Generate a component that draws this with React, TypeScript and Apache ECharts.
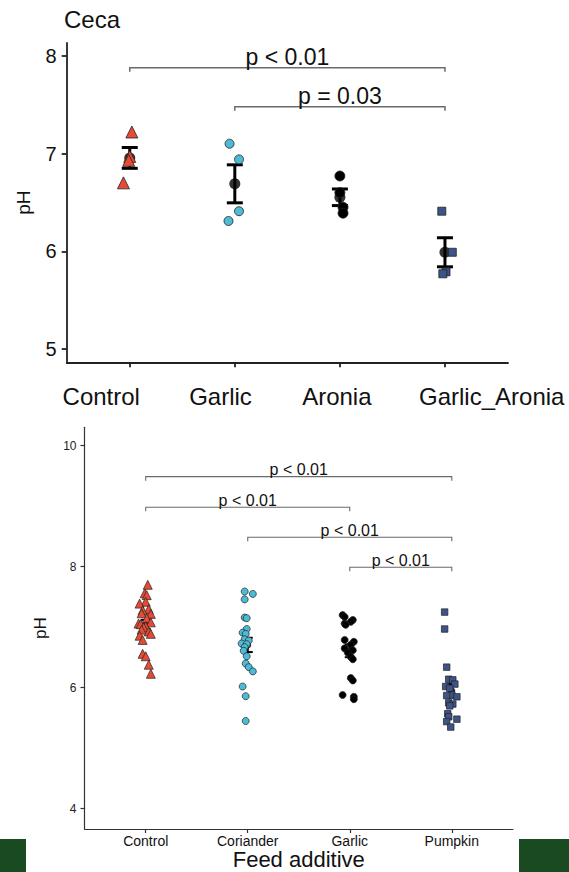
import React, { useEffect, useRef } from "react";
import * as echarts from "echarts";

// ---------- Top panel (Ceca) ----------
const topCategories = ["Control", "Garlic", "Aronia", "Garlic_Aronia"];
const topLabelPositions = [0.729, 1.864, 2.971, 4.445];
const topYTicks = [5, 6, 7, 8];
const topControl = [7.22, 6.97, 6.93, 6.7];
const topControlJitter = [0.02, 0.0, -0.01, -0.06];
const topGarlic = [7.1, 6.94, 6.41, 6.31];
const topGarlicJitter = [-0.05, 0.04, 0.04, -0.06];
const topAronia = [6.77, 6.6, 6.45, 6.39];
const topAroniaJitter = [0.0, 0.0, 0.03, 0.03];
const topGarlicAronia = [6.41, 5.99, 5.79, 5.77];
const topGarlicAroniaJitter = [-0.03, 0.07, 0.01, -0.02];
const topBrackets = [
  { from: 1, to: 4, y: 7.877, label: "p < 0.01" },
  { from: 2, to: 4, y: 7.479, label: "p = 0.03" },
];

// ---------- Bottom panel ----------
const bottomCategories = ["Control", "Coriander", "Garlic", "Pumpkin"];
const bottomYTicks = [4, 6, 8, 10];
const botControl = [7.7, 7.56, 7.53, 7.42, 7.39, 7.3, 7.28, 7.22, 7.23, 7.15, 7.08, 7.06, 7.05, 7.02, 7.0, 6.96, 6.93, 6.89, 6.86, 6.79, 6.56, 6.52, 6.38, 6.23];
const botControlJitter = [0.02, -0.01, 0.01, 0.0, -0.06, 0.03, -0.03, 0.05, -0.04, 0.01, 0.05, -0.07, -0.05, 0.0, -0.02, -0.04, 0.03, 0.05, -0.06, -0.03, -0.03, 0.0, 0.03, 0.05];
const botCoriander = [7.59, 7.55, 7.46, 7.16, 7.15, 6.97, 6.91, 6.89, 6.8, 6.78, 6.73, 6.72, 6.67, 6.61, 6.52, 6.4, 6.34, 6.27, 6.02, 5.86, 5.45];
const botCorianderJitter = [-0.03, 0.05, -0.03, -0.03, -0.01, -0.01, -0.05, -0.02, -0.03, 0.01, -0.06, -0.01, -0.03, -0.04, -0.01, -0.02, 0.01, 0.05, -0.05, -0.02, -0.02];
const botGarlic = [7.2, 7.17, 7.12, 7.09, 7.06, 7.04, 6.79, 6.76, 6.71, 6.65, 6.62, 6.58, 6.51, 6.47, 6.16, 6.12, 5.88, 5.85, 5.81];
const botGarlicJitter = [-0.07, -0.05, 0.03, 0.01, -0.05, -0.04, -0.05, 0.04, 0.01, -0.05, 0.03, -0.02, 0.01, 0.03, 0.01, 0.03, -0.07, 0.04, 0.04];
const botPumpkin = [7.25, 6.97, 6.34, 6.14, 6.13, 6.06, 6.02, 5.99, 5.88, 5.87, 5.85, 5.75, 5.73, 5.7, 5.57, 5.52, 5.48, 5.44, 5.35];
const botPumpkinJitter = [-0.07, -0.07, -0.05, -0.03, 0.01, 0.03, -0.06, -0.02, 0.0, -0.05, 0.05, -0.03, 0.01, -0.02, -0.04, -0.03, 0.05, -0.05, -0.01];
const bottomBrackets = [
  { from: 1, to: 4, y: 9.488, label: "p < 0.01" },
  { from: 1, to: 3, y: 8.982, label: "p < 0.01" },
  { from: 2, to: 4, y: 8.486, label: "p < 0.01" },
  { from: 3, to: 4, y: 7.99, label: "p < 0.01" },
];

const RED = "#E64B35";
const CYAN = "#4DBBD5";
const BLACK = "#000000";
const BLUE = "#3C5488";
const FONT = "Liberation Sans, Arial, sans-serif";

function stats(vals: number[]) {
  const n = vals.length;
  const mean = vals.reduce((a, b) => a + b, 0) / n;
  const sd = Math.sqrt(vals.reduce((a, b) => a + (b - mean) * (b - mean), 0) / (n - 1));
  const se = sd / Math.sqrt(n);
  return { mean, lo: mean - se, hi: mean + se };
}

function pts(vals: number[], jit: number[], idx: number) {
  return vals.map((v, i) => [idx + jit[i], v]);
}

export default function App() {
  const ref = useRef<HTMLDivElement>(null);
  useEffect(() => {
    if (!ref.current) return;
    const chart = echarts.init(ref.current, null, { renderer: "svg" });

    const topGroups = [topControl, topGarlic, topAronia, topGarlicAronia];
    const botGroups = [botControl, botCoriander, botGarlic, botPumpkin];
    const topStats = topGroups.map(stats);
    const botStats = botGroups.map(stats);

    const errorBar = (gi: number, capW: number, lw: number, st: any[]) => ({
      type: "custom",
      xAxisIndex: gi,
      yAxisIndex: gi,
      z: 2,
      encode: { x: 0, y: [1, 2] },
      data: st.map((s, i) => [i + 1, s.lo, s.hi]),
      renderItem: (params: any, api: any) => {
        const x = api.value(0);
        const pl = api.coord([x, api.value(1)]);
        const ph = api.coord([x, api.value(2)]);
        const hw = capW / 2;
        const style = { stroke: "#000", lineWidth: lw };
        return {
          type: "group",
          children: [
            { type: "line", shape: { x1: pl[0], y1: pl[1], x2: ph[0], y2: ph[1] }, style },
            { type: "line", shape: { x1: pl[0] - hw, y1: pl[1], x2: pl[0] + hw, y2: pl[1] }, style },
            { type: "line", shape: { x1: ph[0] - hw, y1: ph[1], x2: ph[0] + hw, y2: ph[1] }, style },
          ],
        };
      },
    });

    const brackets = (gi: number, list: any[], fontSize: number, tick: number, textOff: number, lw: number) => ({
      type: "custom",
      xAxisIndex: gi,
      yAxisIndex: gi,
      z: 1,
      encode: { x: [0, 1], y: 2 },
      data: list.map((b) => [b.from, b.to, b.y]),
      renderItem: (params: any, api: any) => {
        const p1 = api.coord([api.value(0), api.value(2)]);
        const p2 = api.coord([api.value(1), api.value(2)]);
        const label = list[params.dataIndex].label;
        return {
          type: "group",
          children: [
            {
              type: "polyline",
              shape: { points: [[p1[0], p1[1] + tick], [p1[0], p1[1]], [p2[0], p2[1]], [p2[0], p2[1] + tick]] },
              style: { stroke: "#6a6a6a", lineWidth: lw, fill: null },
            },
            {
              type: "text",
              style: {
                text: label,
                x: (p1[0] + p2[0]) / 2,
                y: p1[1] + textOff,
                align: "center",
                verticalAlign: "bottom",
                fontSize,
                fontFamily: FONT,
                fill: "#111",
              },
            },
          ],
        };
      },
    });

    const scatter = (gi: number, data: any[], symbol: string, size: number, color: string, bw: number) => ({
      type: "scatter",
      xAxisIndex: gi,
      yAxisIndex: gi,
      z: 3,
      symbol,
      symbolSize: size,
      data,
      itemStyle: { color, borderColor: "#222", borderWidth: bw, opacity: 1 },
    });

    const option: any = {
      animation: false,
      backgroundColor: "#ffffff",
      grid: [
        { left: 66.7, right: 61, top: 43, height: 319.3, containLabel: false },
        { left: 84.5, right: 56, top: 427.3, height: 401.7, containLabel: false },
      ],
      xAxis: [
        {
          gridIndex: 0,
          type: "value",
          min: 0.4,
          max: 4.6,
          splitLine: { show: false },
          axisLine: { lineStyle: { color: "#222", width: 1.8 } },
          axisTick: { customValues: [1, 2, 3, 4], length: 5, lineStyle: { color: "#222", width: 1.8 } },
          axisLabel: {
            customValues: topLabelPositions,
            formatter: (v: number) => topCategories[Math.round(v) - 1],
            fontSize: 24,
            fontFamily: FONT,
            color: "#111",
            margin: 22,
          },
        },
        {
          gridIndex: 1,
          type: "value",
          min: 0.4,
          max: 4.6,
          splitLine: { show: false },
          axisLine: { lineStyle: { color: "#333", width: 1.2 } },
          axisTick: { customValues: [1, 2, 3, 4], length: 4, lineStyle: { color: "#333", width: 1.2 } },
          axisLabel: {
            customValues: [1, 2, 3, 4],
            formatter: (v: number) => bottomCategories[Math.round(v) - 1],
            fontSize: 14,
            fontFamily: FONT,
            color: "#111",
            margin: 5,
          },
          name: "Feed additive",
          nameLocation: "middle",
          nameGap: 18,
          nameTextStyle: { fontSize: 22, fontFamily: FONT, color: "#111" },
        },
      ],
      yAxis: [
        {
          gridIndex: 0,
          type: "value",
          min: 4.865,
          max: 8.13,
          splitLine: { show: false },
          axisLine: { show: true, lineStyle: { color: "#222", width: 1.8 } },
          axisTick: { show: true, customValues: topYTicks, length: 5, lineStyle: { color: "#222", width: 1.8 } },
          axisLabel: { customValues: topYTicks, fontSize: 20, fontFamily: FONT, color: "#111", margin: 10 },
          name: "pH",
          nameLocation: "middle",
          nameRotate: 90,
          nameGap: 34,
          nameTextStyle: { fontSize: 19, fontFamily: FONT, color: "#111" },
        },
        {
          gridIndex: 1,
          type: "value",
          min: 3.665,
          max: 10.304,
          splitLine: { show: false },
          axisLine: { show: true, lineStyle: { color: "#333", width: 1.2 } },
          axisTick: { show: true, customValues: bottomYTicks, length: 4, lineStyle: { color: "#333", width: 1.2 } },
          axisLabel: { customValues: bottomYTicks, fontSize: 12, fontFamily: FONT, color: "#222", margin: 8 },
          name: "pH",
          nameLocation: "middle",
          nameRotate: 90,
          nameGap: 36,
          nameTextStyle: { fontSize: 17, fontFamily: FONT, color: "#111" },
        },
      ],
      graphic: [
        { type: "text", left: 64, top: 7, style: { text: "Ceca", fontSize: 24, fontFamily: FONT, fill: "#111" } },
        { type: "rect", shape: { x: 0, y: 839, width: 26, height: 33 }, style: { fill: "#1a4a22" } },
        { type: "rect", shape: { x: 519, y: 839, width: 50, height: 33 }, style: { fill: "#1a4a22" } },
      ],
      series: [
        brackets(0, topBrackets, 23, 4, 1, 1.5),
        errorBar(0, 16, 3, topStats),
        {
          type: "scatter",
          xAxisIndex: 0,
          yAxisIndex: 0,
          z: 2,
          symbol: "circle",
          symbolSize: 11,
          data: topStats.map((s, i) => [i + 1, s.mean]),
          itemStyle: { color: "#000" },
        },
        scatter(0, pts(topControl, topControlJitter, 1), "triangle", 12, RED, 0.8),
        scatter(0, pts(topGarlic, topGarlicJitter, 2), "circle", 9, CYAN, 0.8),
        scatter(0, pts(topAronia, topAroniaJitter, 3), "circle", 10, BLACK, 0.8),
        scatter(0, pts(topGarlicAronia, topGarlicAroniaJitter, 4), "rect", 8, BLUE, 0.8),

        brackets(1, bottomBrackets, 16, 4, 1, 1.1),
        errorBar(1, 10, 2, botStats),
        {
          type: "scatter",
          xAxisIndex: 1,
          yAxisIndex: 1,
          z: 2,
          symbol: "circle",
          symbolSize: 7,
          data: botStats.map((s, i) => [i + 1, s.mean]),
          itemStyle: { color: "#000" },
        },
        scatter(1, pts(botControl, botControlJitter, 1), "triangle", 9, RED, 0.7),
        scatter(1, pts(botCoriander, botCorianderJitter, 2), "circle", 7, CYAN, 0.7),
        scatter(1, pts(botGarlic, botGarlicJitter, 3), "circle", 7, BLACK, 0.7),
        scatter(1, pts(botPumpkin, botPumpkinJitter, 4), "rect", 6.5, BLUE, 0.7),
      ],
    };
    chart.setOption(option);
    return () => chart.dispose();
  }, []);
  return (
    <div
      ref={ref}
      style={{ position: "fixed", left: 0, top: 0, width: 569, height: 872, background: "#fff" }}
    />
  );
}
